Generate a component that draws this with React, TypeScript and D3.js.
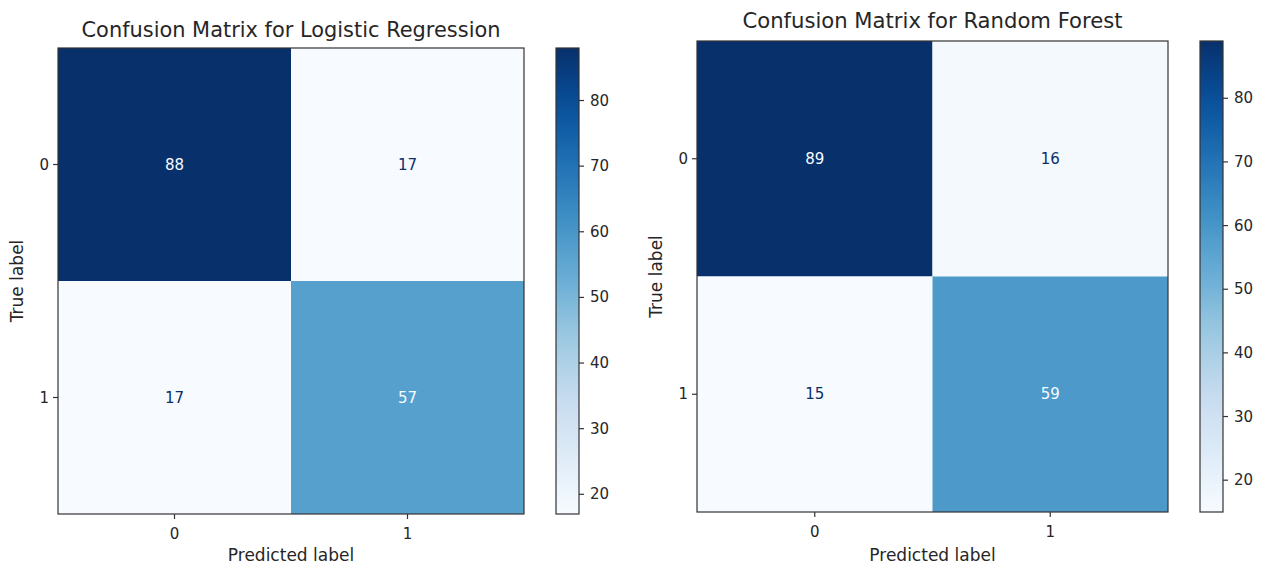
import React from "react";
import * as d3 from "d3";

const classLabels = ["0", "1"];
const lrMatrix = [
  [88, 17],
  [17, 57],
];
const rfMatrix = [
  [89, 16],
  [15, 59],
];
const colorbarTicks = [20, 30, 40, 50, 60, 70, 80];
const bluesStops = [
  "#f7fbff", "#deebf7", "#c6dbef", "#9ecae1", "#6baed6",
  "#4292c6", "#2171b5", "#08519c", "#08306b",
];

const FONT = "DejaVu Sans, sans-serif";
const TEXT = "#262626";

type PanelProps = {
  id: string;
  title: string;
  matrix: number[][];
  x0: number;
  y0: number;
  size: number;
  cbX: number;
  titleY: number;
  titleLen: number;
  xlabelOffset: number;
};

function Panel({ id, title, matrix, x0, y0, size, cbX, titleY, titleLen, xlabelOffset }: PanelProps) {
  const flat = matrix.flat();
  const vmin = d3.min(flat) as number;
  const vmax = d3.max(flat) as number;
  const t = d3.scaleLinear().domain([vmin, vmax]).range([0, 1]);
  const cmap = d3
    .scaleLinear<string>()
    .domain(bluesStops.map((_, i) => i / (bluesStops.length - 1)))
    .range(bluesStops)
    .interpolate(d3.interpolateRgb);
  const color = (v: number) => cmap(t(v));
  const xs = d3.scaleBand().domain(classLabels).range([x0, x0 + size]);
  const ys = d3.scaleBand().domain(classLabels).range([y0, y0 + size]);
  const cbW = 23;
  const cbY = d3.scaleLinear().domain([vmin, vmax]).range([y0 + size, y0]);
  const thresh = (vmin + vmax) / 2;
  const gradStops = d3.range(0, 1.0001, 0.05);
  return (
    <g>
      <defs>
        <linearGradient id={`grad-${id}`} x1="0" y1="1" x2="0" y2="0">
          {gradStops.map((s) => (
            <stop key={s} offset={s} stopColor={cmap(s)} />
          ))}
        </linearGradient>
      </defs>
      {matrix.map((row, i) =>
        row.map((v, j) => (
          <rect
            key={`${i}-${j}`}
            x={xs(classLabels[j])}
            y={ys(classLabels[i])}
            width={xs.bandwidth()}
            height={ys.bandwidth()}
            fill={color(v)}
          />
        ))
      )}
      {matrix.map((row, i) =>
        row.map((v, j) => (
          <text
            key={`t${i}-${j}`}
            x={(xs(classLabels[j]) as number) + xs.bandwidth() / 2}
            y={(ys(classLabels[i]) as number) + ys.bandwidth() / 2}
            textAnchor="middle"
            dominantBaseline="central"
            fontFamily={FONT}
            fontSize={15}
            fill={v > thresh ? bluesStops[0] : bluesStops[8]}
          >
            {v}
          </text>
        ))
      )}
      <rect x={x0} y={y0} width={size} height={size} fill="none" stroke="#333" strokeWidth={1.2} />
      {classLabels.map((c) => {
        const cx = (xs(c) as number) + xs.bandwidth() / 2;
        return (
          <g key={`x${c}`}>
            <line x1={cx} x2={cx} y1={y0 + size} y2={y0 + size + 5} stroke="#333" strokeWidth={1.2} />
            <text x={cx} y={y0 + size + 20} textAnchor="middle" dominantBaseline="central" fontFamily={FONT} fontSize={15} fill={TEXT}>
              {c}
            </text>
          </g>
        );
      })}
      {classLabels.map((c) => {
        const cy = (ys(c) as number) + ys.bandwidth() / 2;
        return (
          <g key={`y${c}`}>
            <line x1={x0 - 5} x2={x0} y1={cy} y2={cy} stroke="#333" strokeWidth={1.2} />
            <text x={x0 - 9} y={cy} textAnchor="end" dominantBaseline="central" fontFamily={FONT} fontSize={15} fill={TEXT}>
              {c}
            </text>
          </g>
        );
      })}
      <text x={x0 + size / 2} y={y0 + size + xlabelOffset} textAnchor="middle" dominantBaseline="central" fontFamily={FONT} fontSize={17} fill={TEXT}>
        Predicted label
      </text>
      <text
        transform={`translate(${x0 - 41},${y0 + size / 2}) rotate(-90)`}
        textAnchor="middle"
        dominantBaseline="central"
        fontFamily={FONT}
        fontSize={17}
        fill={TEXT}
      >
        True label
      </text>
      <text
        x={x0 + size / 2}
        y={titleY}
        textAnchor="middle"
        dominantBaseline="central"
        fontFamily={FONT}
        fontSize={21}
        fill={TEXT}
        textLength={titleLen}
        lengthAdjust="spacingAndGlyphs"
      >
        {title}
      </text>
      <rect x={cbX} y={y0} width={cbW} height={size} fill={`url(#grad-${id})`} stroke="#333" strokeWidth={1.2} />
      {colorbarTicks.map((v) => (
        <g key={`cb${v}`}>
          <line x1={cbX + cbW} x2={cbX + cbW + 5} y1={cbY(v)} y2={cbY(v)} stroke="#333" strokeWidth={1.2} />
          <text x={cbX + cbW + 11} y={cbY(v)} dominantBaseline="central" fontFamily={FONT} fontSize={15} fill={TEXT}>
            {v}
          </text>
        </g>
      ))}
    </g>
  );
}

export default function App() {
  return (
    <div style={{ position: "absolute", left: 0, top: 0 }}>
      <svg width={1264} height={565} style={{ display: "block", background: "#fff" }}>
        <Panel id="lr" title="Confusion Matrix for Logistic Regression" matrix={lrMatrix} x0={58} y0={48} size={466} cbX={556} titleY={30} titleLen={419} xlabelOffset={41} />
        <Panel id="rf" title="Confusion Matrix for Random Forest" matrix={rfMatrix} x0={697} y0={41} size={471} cbX={1200} titleY={21} titleLen={380} xlabelOffset={43} />
      </svg>
    </div>
  );
}
